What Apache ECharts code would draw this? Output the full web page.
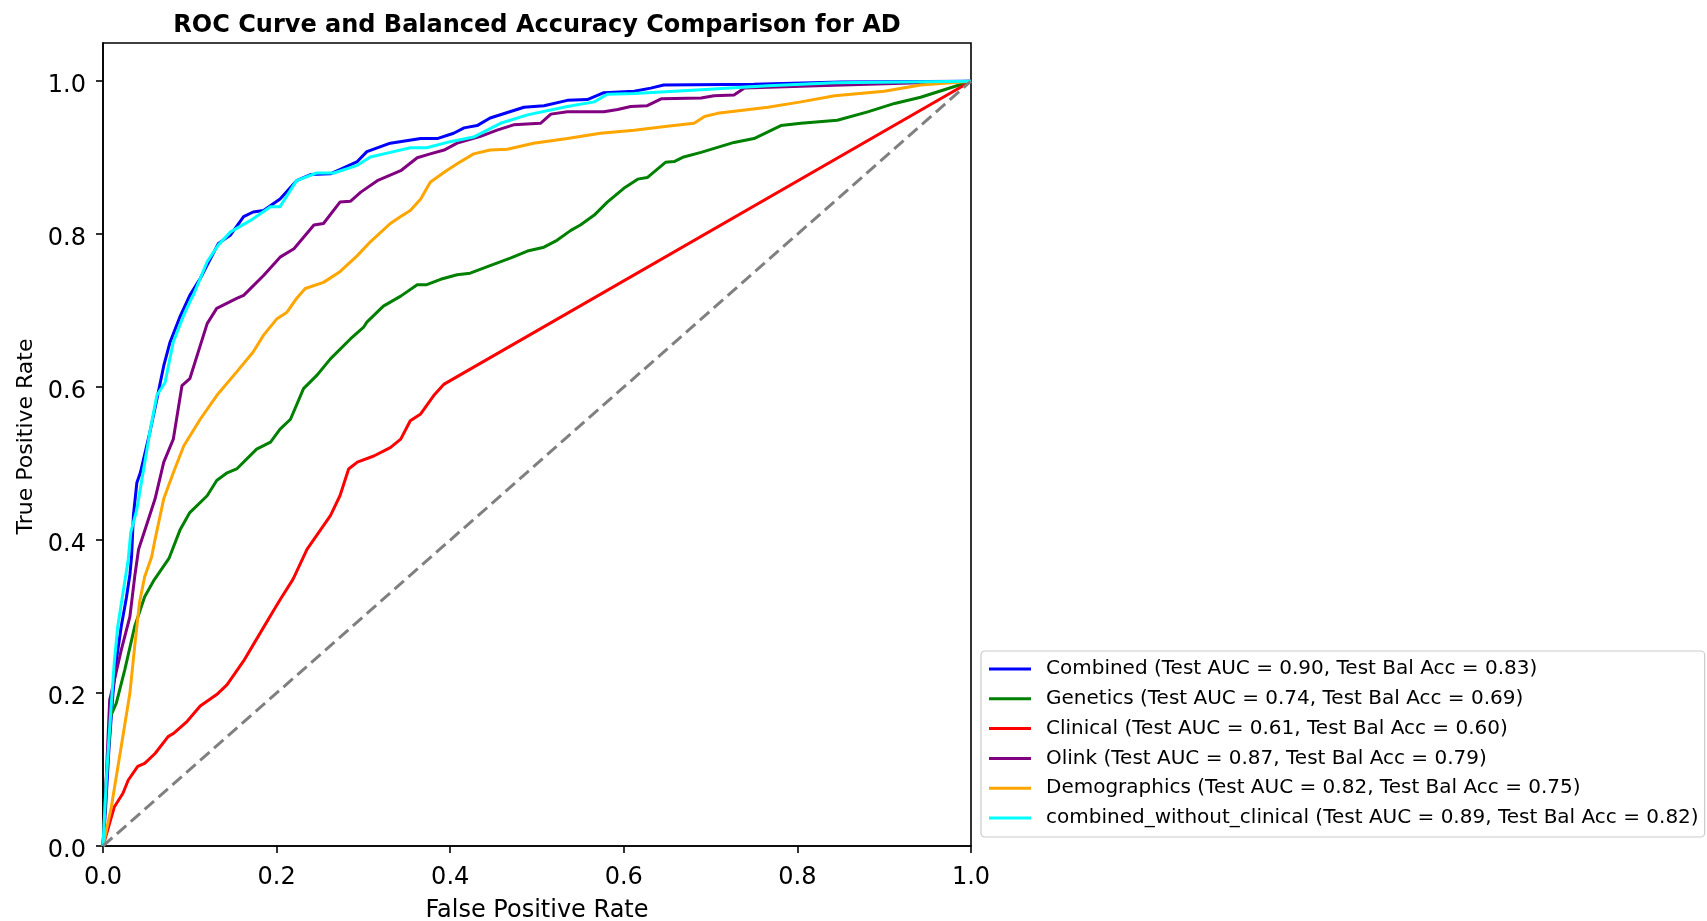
<!DOCTYPE html>
<html>
<head>
<meta charset="utf-8">
<script src="https://cdn.jsdelivr.net/npm/echarts@6/dist/echarts.min.js"></script>
<style>
  html, body { margin: 0; padding: 0; background: #ffffff; }
  #chart { width: 1707px; height: 921px; }
</style>
</head>
<body>
<div id="chart"></div>
<script>
// ---- Data (FPR, TPR) ----
const chartTitle = 'ROC Curve and Balanced Accuracy Comparison for AD';
const xTicks = [0, 0.2, 0.4, 0.6, 0.8, 1.0];
const yTicks = [0, 0.2, 0.4, 0.6, 0.8, 1.0];

const seriesNames = ['Combined', 'Genetics', 'Clinical', 'Olink', 'Demographics', 'combined_without_clinical'];
const testAUC = [0.90, 0.74, 0.61, 0.87, 0.82, 0.89];
const testBalAcc = [0.83, 0.69, 0.60, 0.79, 0.75, 0.82];

const combinedRoc = [
  [0,0],[0.003,0.05],[0.007,0.13],[0.0115,0.20],[0.0154,0.243],[0.021,0.287],[0.027,0.325],[0.031,0.355],
  [0.033,0.38],[0.035,0.432],[0.039,0.475],[0.043,0.488],[0.054,0.541],[0.062,0.584],[0.070,0.628],[0.077,0.658],
  [0.089,0.693],[0.100,0.720],[0.112,0.742],[0.133,0.788],[0.147,0.799],[0.162,0.823],[0.173,0.829],
  [0.185,0.831],[0.204,0.846],[0.223,0.870],[0.239,0.878],[0.262,0.879],[0.293,0.895],[0.304,0.908],
  [0.331,0.919],[0.366,0.925],[0.385,0.925],[0.404,0.932],[0.416,0.939],[0.431,0.942],[0.446,0.952],
  [0.485,0.966],[0.508,0.968],[0.535,0.975],[0.558,0.976],[0.577,0.985],[0.612,0.987],[0.631,0.991],
  [0.646,0.995],[0.75,0.996],[0.85,0.999],[1,1]
];
const geneticsRoc = [
  [0,0],[0.004,0.09],[0.009,0.17],[0.0154,0.187],[0.025,0.230],[0.0365,0.287],[0.048,0.326],[0.059,0.348],
  [0.076,0.376],[0.089,0.414],[0.100,0.436],[0.120,0.458],[0.131,0.478],
  [0.143,0.488],[0.154,0.493],[0.177,0.519],[0.193,0.528],[0.204,0.545],[0.216,0.558],[0.231,0.598],
  [0.246,0.615],[0.262,0.637],[0.285,0.663],[0.300,0.678],[0.304,0.685],[0.323,0.706],[0.343,0.719],
  [0.362,0.734],[0.373,0.734],[0.389,0.741],[0.408,0.747],[0.423,0.749],[0.446,0.759],[0.470,0.769],
  [0.489,0.778],[0.508,0.783],[0.523,0.792],[0.539,0.805],[0.550,0.812],[0.566,0.825],[0.581,0.842],
  [0.600,0.860],[0.616,0.872],[0.627,0.874],[0.648,0.894],[0.658,0.895],[0.669,0.901],[0.689,0.907],
  [0.727,0.920],[0.750,0.925],[0.781,0.942],[0.804,0.945],[0.846,0.949],[0.881,0.960],[0.912,0.971],
  [0.942,0.979],[1,1]
];
const clinicalRoc = [
  [0,0],[0.013,0.051],[0.023,0.069],[0.029,0.086],[0.040,0.104],[0.048,0.108],[0.060,0.121],[0.075,0.143],
  [0.081,0.147],[0.097,0.163],[0.112,0.183],[0.131,0.198],[0.143,0.211],[0.162,0.242],[0.173,0.263],[0.196,0.307],
  [0.204,0.322],[0.219,0.349],[0.235,0.388],[0.254,0.419],[0.262,0.432],[0.273,0.458],[0.283,0.493],
  [0.293,0.502],[0.312,0.510],[0.331,0.521],[0.343,0.532],[0.354,0.556],[0.366,0.565],[0.381,0.589],
  [0.393,0.604],[1,1]
];
const olinkRoc = [
  [0,0],[0.003,0.069],[0.0077,0.191],[0.0115,0.209],[0.021,0.256],[0.031,0.300],[0.0365,0.352],
  [0.041,0.388],[0.050,0.419],[0.060,0.454],[0.070,0.502],[0.081,0.532],[0.091,0.602],[0.100,0.611],
  [0.120,0.683],[0.131,0.703],[0.154,0.716],[0.162,0.720],[0.185,0.746],[0.204,0.770],[0.220,0.781],
  [0.243,0.812],[0.254,0.814],[0.273,0.842],[0.285,0.843],[0.297,0.855],[0.316,0.870],[0.343,0.883],
  [0.362,0.900],[0.377,0.905],[0.393,0.910],[0.408,0.919],[0.435,0.928],[0.454,0.936],[0.473,0.943],
  [0.504,0.945],[0.516,0.957],[0.535,0.960],[0.577,0.960],[0.593,0.963],[0.608,0.967],[0.627,0.968],
  [0.643,0.977],[0.689,0.978],[0.704,0.981],[0.727,0.982],[0.739,0.991],[0.823,0.994],[1,1]
];
const demographicsRoc = [
  [0,0],[0.0096,0.051],[0.021,0.130],[0.031,0.200],[0.0365,0.261],[0.042,0.318],[0.048,0.352],[0.056,0.378],
  [0.060,0.401],[0.070,0.454],
  [0.081,0.488],[0.093,0.523],[0.112,0.558],[0.131,0.589],[0.154,0.620],[0.173,0.646],[0.185,0.668],
  [0.200,0.689],[0.212,0.698],[0.223,0.716],[0.233,0.729],[0.254,0.737],[0.273,0.751],[0.293,0.772],
  [0.308,0.790],[0.331,0.814],[0.343,0.823],[0.354,0.831],[0.366,0.846],[0.377,0.868],[0.393,0.881],
  [0.408,0.892],[0.427,0.905],[0.446,0.910],[0.466,0.911],[0.496,0.919],[0.535,0.925],[0.573,0.932],
  [0.612,0.936],[0.650,0.941],[0.681,0.945],[0.693,0.954],[0.708,0.958],[0.766,0.966],[0.804,0.973],
  [0.843,0.981],[0.900,0.987],[0.942,0.995],[1,1]
];
const combinedWithoutClinicalRoc = [
  [0,0],[0.004,0.09],[0.008,0.16],[0.013,0.24],[0.017,0.287],[0.023,0.331],[0.029,0.374],[0.032,0.410],
  [0.039,0.440],[0.054,0.541],[0.062,0.589],[0.0715,0.606],[0.081,0.659],[0.093,0.694],[0.102,0.716],[0.104,0.720],
  [0.120,0.764],[0.133,0.786],[0.147,0.803],[0.170,0.818],[0.193,0.836],[0.204,0.836],[0.223,0.870],
  [0.246,0.880],[0.266,0.880],[0.293,0.890],[0.308,0.901],[0.331,0.907],[0.354,0.913],[0.373,0.913],
  [0.400,0.921],[0.427,0.927],[0.446,0.938],[0.458,0.945],[0.489,0.956],[0.535,0.967],[0.566,0.973],
  [0.581,0.983],[0.612,0.984],[0.689,0.989],[0.766,0.994],[0.843,0.998],[1,1]
];
const chanceLine = [[0,0],[1,1]];

const rocData = [combinedRoc, geneticsRoc, clinicalRoc, olinkRoc, demographicsRoc, combinedWithoutClinicalRoc];
const colors = ['#0000ff', '#008000', '#ff0000', '#800080', '#ffa500', '#00ffff'];

const FONT = 'DejaVu Sans';
const labelOf = i => seriesNames[i] + ' (Test AUC = ' + testAUC[i].toFixed(2) + ', Test Bal Acc = ' + testBalAcc[i].toFixed(2) + ')';

const series = rocData.map((d, i) => ({
  name: labelOf(i),
  type: 'line',
  data: d,
  showSymbol: false,
  symbol: 'none',
  lineStyle: { color: colors[i], width: 3 },
  itemStyle: { color: colors[i] },
  z: 2 + i
}));
series.push({
  name: 'chance',
  type: 'line',
  data: chanceLine,
  showSymbol: false,
  symbol: 'none',
  lineStyle: { color: '#808080', width: 3, type: [12.5, 6] },
  z: 10
});

const chart = echarts.init(document.getElementById('chart'), null, { renderer: 'canvas' });
chart.setOption({
  animation: false,
  backgroundColor: '#ffffff',
  title: {
    text: chartTitle,
    left: 532,
    top: 8.5,
    textAlign: 'center',
    textStyle: { fontFamily: FONT, fontSize: 24, fontWeight: 'bold', color: '#000' }
  },
  grid: {
    left: 103, right: 736, top: 43, bottom: 75,
    outerBoundsMode: 'none',
    show: true, borderColor: '#000', borderWidth: 1.6, backgroundColor: '#fff',
    containLabel: false
  },
  legend: {
    orient: 'vertical',
    left: 981,
    top: 651,
    data: seriesNames.map((n, i) => labelOf(i)),
    icon: 'path://M0,0h42v3h-42z',
    itemWidth: 42,
    itemHeight: 3,
    itemGap: 9.8,
    padding: [8, 6, 9, 8],
    borderColor: '#cccccc',
    borderWidth: 1.2,
    borderRadius: 4,
    backgroundColor: 'rgba(255,255,255,0.8)',
    textStyle: { fontFamily: FONT, fontSize: 20, color: '#000', lineHeight: 20, padding: [0, 0, 0, 10] },
    selectedMode: false
  },
  xAxis: {
    type: 'value',
    min: 0, max: 1, interval: 0.2,
    name: 'False Positive Rate',
    nameLocation: 'middle',
    nameGap: 53,
    nameTextStyle: { fontFamily: FONT, fontSize: 24, color: '#000' },
    axisLine: { show: true, onZero: false, lineStyle: { color: '#000', width: 1.6 } },
    axisTick: { show: true, length: 7, lineStyle: { color: '#000', width: 1.6 } },
    axisLabel: { fontFamily: FONT, fontSize: 24, color: '#000', margin: 20, formatter: v => v.toFixed(1) },
    splitLine: { show: false }
  },
  yAxis: {
    type: 'value',
    min: 0, max: 1.05,
    name: 'True Positive Rate',
    nameLocation: 'middle',
    nameGap: 66,
    nameRotate: 90,
    nameTextStyle: { fontFamily: FONT, fontSize: 22, color: '#000', padding: [0, 0, 0, 16] },
    axisLine: { show: true, onZero: false, lineStyle: { color: '#000', width: 1.6 } },
    axisTick: { show: true, length: 7, lineStyle: { color: '#000', width: 1.6 }, customValues: yTicks },
    axisLabel: { fontFamily: FONT, fontSize: 24, color: '#000', margin: 17, verticalAlign: 'top', lineHeight: 10, customValues: yTicks, formatter: v => v.toFixed(1) },
    splitLine: { show: false }
  },
  series: series
});
</script>
</body>
</html>
